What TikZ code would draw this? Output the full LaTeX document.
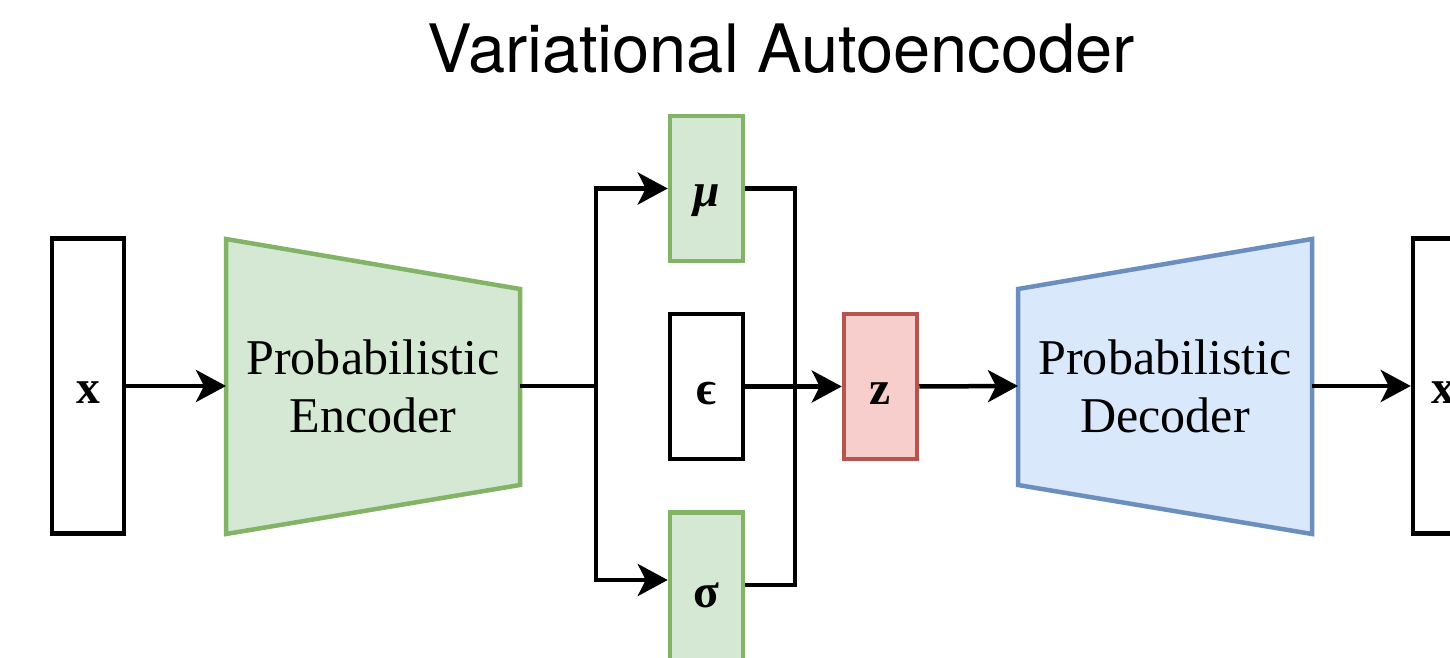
\documentclass[tikz,border=0pt]{standalone}
\usepackage{fontspec}
\setmainfont{Liberation Serif}
\newfontfamily\titlefont{TeX Gyre Heros}
\usetikzlibrary{arrows.meta}

\definecolor{encfill}{HTML}{D5E8D4}
\definecolor{encline}{HTML}{82B366}
\definecolor{decfill}{HTML}{DAE8FC}
\definecolor{decline}{HTML}{6C8EBF}
\definecolor{zfill}{HTML}{F8CECC}
\definecolor{zline}{HTML}{B85450}

\begin{document}
\begin{tikzpicture}[x=0.02cm, y=-0.02cm,
  lw/.style={line width=0.09cm},
  labelfont/.style={font=\fontsize{27}{32}\selectfont\bfseries,
    text height=0.74cm, text depth=0.02cm},
  databox/.style={lw, draw=black, fill=white, inner sep=0pt,
    minimum width=1.44cm, minimum height=5.9cm, labelfont},
  latent/.style={lw, draw=encline, fill=encfill, inner sep=0pt,
    minimum width=1.46cm, minimum height=2.9cm, labelfont},
  noisebox/.style={latent, draw=black, fill=white},
  codebox/.style={latent, draw=zline, fill=zfill},
  netlabel/.style={align=center, font=\fontsize{28.5}{33}\selectfont},
  link/.style={lw, line join=miter},
  arr/.style={link, -{Stealth[length=0.6cm, width=0.64cm, inset=0.16cm]}},
]
\useasboundingbox (0,0) rectangle (1450,658);
\clip (0,0) rectangle (1450,658);

% title
\node[anchor=base, font=\titlefont\fontsize{38}{44}\selectfont] (title) at (781,73) {Variational Autoencoder};

% input and output data
\node[databox] (xin) at (88,386) {x};
\node[databox] (xout) at (1449,386) {};
\node[labelfont] (xoutlabel) at (1443,386) {x};

% probabilistic encoder
\draw[lw, draw=encline, fill=encfill] (226,239) -- (520,289) -- (520,485) -- (226,534) -- cycle;
\coordinate (encin) at (226,386);
\coordinate (encout) at (520,386);
\node[netlabel] (enclabel) at (373,386) {Probabilistic\\Encoder};

% probabilistic decoder
\draw[lw, draw=decline, fill=decfill] (1018,289) -- (1312,239) -- (1312,534) -- (1018,485) -- cycle;
\coordinate (decin) at (1018,386);
\coordinate (decout) at (1312,386);
\node[netlabel] (declabel) at (1165,386) {Probabilistic\\Decoder};

% latent parameters, noise and code
\node[latent, font=\fontsize{27}{32}\selectfont\bfseries\itshape] (mu) at (706.5,188.5) {μ};
\node[noisebox] (eps) at (706.5,386.5) {ϵ};
\node[latent, minimum height=3.1cm] (sigma) at (706.5,590) {σ};
\node[codebox] (z) at (880.5,386.5) {z};

\coordinate (split) at (596,386);
\coordinate (merge) at (795,386);

% connectors
\draw[arr] (xin.east) -- (encin);
\draw[link] (encout) -- (split);
\draw[arr] (split) |- (mu.west);
\draw[arr] (split) |- ([yshift=0.2cm]sigma.west);
\draw[link] (mu.east) -| (merge) |- ([yshift=0.1cm]sigma.east);
\draw[arr] (eps.east) -- (z.west);
\draw[arr] (z.east) -- (decin);
\draw[arr] (decout) -- (xout.west);
\end{tikzpicture}
\end{document}
